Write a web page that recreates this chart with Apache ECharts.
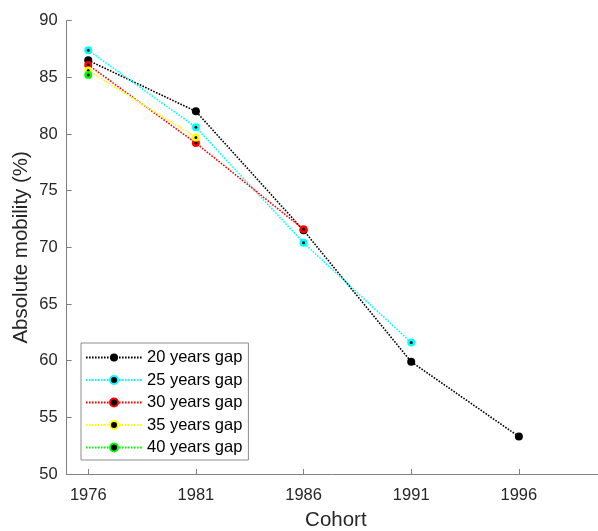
<!DOCTYPE html>
<html>
<head>
<meta charset="utf-8">
<script src="https://cdn.jsdelivr.net/npm/echarts@6/dist/echarts.min.js"></script>
<style>
html,body{margin:0;padding:0;background:#fff;}
#chart{width:598px;height:531px;}
</style>
</head>
<body>
<div id="chart"></div>
<script>
const cohorts = [1976, 1981, 1986, 1991, 1996];
const gap20 = [86.5, 82.0, 71.5, 59.9, 53.3];
const gap25 = [87.4, 80.6, 70.4, 61.6];
const gap30 = [86.1, 79.2, 71.6];
const gap35 = [85.6, 79.7];
const gap40 = [85.2];
const seriesNames = ['20 years gap', '25 years gap', '30 years gap', '35 years gap', '40 years gap'];
const yTicks = [50, 55, 60, 65, 70, 75, 80, 85, 90];

const colors = ['#000000', '#00ffff', '#ff0000', '#ffff00', '#00ff00'];
const allValues = [gap20, gap25, gap30, gap35, gap40];

const font = '"Liberation Sans", Arial, sans-serif';
const axisColor = '#808080';
const textColor = '#262626';

const series = allValues.map((vals, i) => ({
  name: seriesNames[i],
  type: 'line',
  data: vals.map((v, j) => [cohorts[j], v]),
  symbol: 'circle',
  symbolSize: i === 0 ? 8 : 5.5,
  lineStyle: { color: colors[i], width: 1.6, type: [1.6, 1.4] },
  itemStyle: i === 0
    ? { color: '#000000', borderWidth: 0 }
    : { color: '#000000', borderColor: colors[i], borderWidth: 2.5 },
  emphasis: { disabled: true },
  animation: false,
  z: 2 + i
}));

const chart = echarts.init(document.getElementById('chart'), null, { renderer: 'canvas' });
chart.setOption({
  animation: false,
  backgroundColor: '#ffffff',
  grid: { left: 66.7, top: 20.7, width: 538.3, height: 453.3, containLabel: false, outerBoundsMode: 'none' },
  xAxis: {
    type: 'value',
    min: 1975,
    max: 2000,
    name: 'Cohort',
    nameLocation: 'middle',
    nameGap: 36,
    nameMoveOverlap: false,
    nameTextStyle: { fontFamily: font, fontSize: 20.5, color: textColor },
    axisLine: { show: true, lineStyle: { color: axisColor, width: 1 } },
    axisTick: { show: true, inside: true, length: 5, lineStyle: { color: axisColor }, customValues: cohorts },
    axisLabel: { fontFamily: font, fontSize: 16.5, color: textColor, margin: 13, customValues: cohorts, formatter: v => String(v) },
    splitLine: { show: false }
  },
  yAxis: {
    type: 'value',
    min: 50,
    max: 90,
    interval: 5,
    name: 'Absolute mobility (%)',
    nameLocation: 'middle',
    nameGap: 35,
    nameMoveOverlap: false,
    nameRotate: 90,
    nameTextStyle: { fontFamily: font, fontSize: 20.5, color: textColor },
    axisLine: { show: true, lineStyle: { color: axisColor, width: 1 } },
    axisTick: { show: true, inside: true, length: 5, lineStyle: { color: axisColor }, customValues: yTicks },
    axisLabel: { fontFamily: font, fontSize: 16.5, color: textColor, margin: 9, customValues: yTicks },
    splitLine: { show: false }
  },
  legend: {
    orient: 'vertical',
    left: 81,
    top: 343,
    padding: [6, 6, 4, 4],
    borderColor: '#8c8c8c',
    borderWidth: 1,
    backgroundColor: '#ffffff',
    itemWidth: 56,
    itemHeight: 10,
    itemGap: 5.5,
    textStyle: { fontFamily: font, fontSize: 16.5, color: '#000000', lineHeight: 14 },
    data: seriesNames,
    selectedMode: false
  },
  series: series
});
</script>
</body>
</html>
